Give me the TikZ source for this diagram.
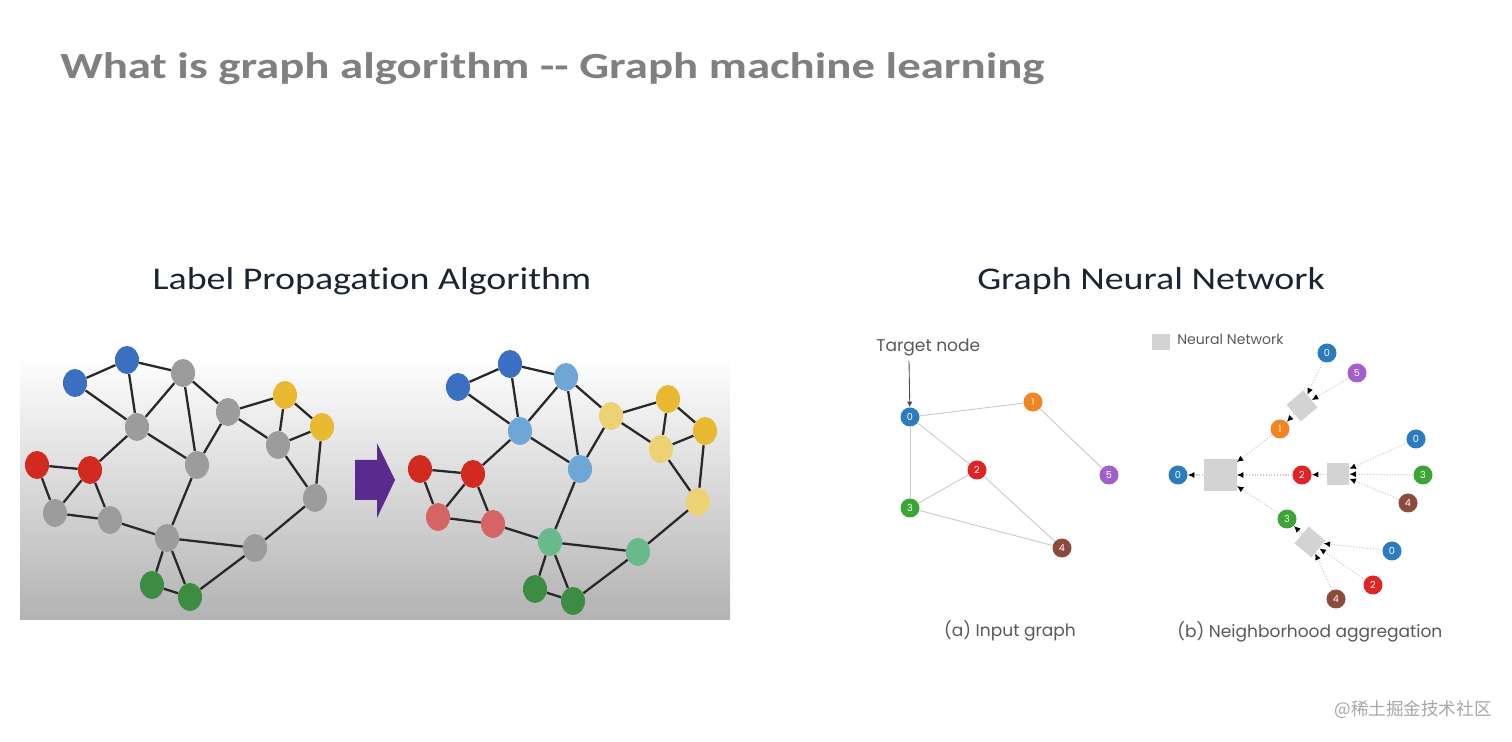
\documentclass[tikz,border=0pt]{standalone}
\usepackage{fontspec}
\setmainfont{Carlito}[Ligatures=NoCommon]
\newfontfamily\titlefont{Carlito}[Ligatures=NoCommon,FakeStretch=1.27]
\newfontfamily\headfont{Carlito}[Ligatures=NoCommon,FakeStretch=1.2]
\newfontfamily\gnnfont{Poppins}
\newfontfamily\cjkfont{Noto Sans CJK SC}
\usetikzlibrary{arrows.meta,shapes.geometric}
\definecolor{titlegray}{RGB}{128,128,128}
\definecolor{ink}{RGB}{27,36,49}
\definecolor{edgeink}{RGB}{40,40,40}
\definecolor{lpBlue}{RGB}{59,111,194}
\definecolor{lpGray}{RGB}{156,156,156}
\definecolor{lpYellow}{RGB}{232,185,49}
\definecolor{lpRed}{RGB}{210,42,30}
\definecolor{lpGreen}{RGB}{60,140,68}
\definecolor{lpLBlue}{RGB}{111,166,216}
\definecolor{lpLYellow}{RGB}{236,210,114}
\definecolor{lpPink}{RGB}{214,100,100}
\definecolor{lpLGreen}{RGB}{105,185,139}
\definecolor{arrowpurple}{RGB}{91,42,142}
\definecolor{gBlue}{RGB}{43,123,191}
\definecolor{gOrange}{RGB}{242,132,34}
\definecolor{gRed}{RGB}{224,36,36}
\definecolor{gGreen}{RGB}{60,165,53}
\definecolor{gBrown}{RGB}{139,75,59}
\definecolor{gPurple}{RGB}{160,95,201}
\definecolor{nnGray}{RGB}{211,211,211}
\definecolor{gLine}{RGB}{200,200,200}
\tikzset{
  lpnode/.style={ellipse,minimum width=0.48cm,minimum height=0.56cm,inner sep=0pt},
  lpedge/.style={edgeink,line width=1.3pt},
  gnode/.style={circle,minimum size=0.38cm,inner sep=0pt,text=white,
    font=\gnnfont\fontsize{5.5}{5.5}\selectfont},
  nnbox/.style={fill=nnGray,inner sep=0pt},
  gedge/.style={gLine,line width=0.5pt},
  agg/.style={gLine,line width=0.6pt,densely dotted,
    -{Latex[length=1.3mm,width=1.2mm,black]}},
  gtext/.style={font=\gnnfont\fontsize{9.7}{11}\selectfont,text=black!65},
}

\begin{document}
\begin{tikzpicture}[x=0.02cm,y=-0.02cm]
\useasboundingbox (0,0) rectangle (1512,742);
% title and headings
\node[anchor=base west,inner sep=0pt,text=titlegray,
  font=\titlefont\fontsize{21}{25}\selectfont\bfseries] (title) at (60,79)
  {What is graph algorithm -{}- Graph machine learning};
\node[anchor=base,inner sep=0pt,text=ink,font=\headfont\fontsize{18}{22}\selectfont]
  (lpahead) at (372,290) {Label Propagation Algorithm};
\node[anchor=base,inner sep=0pt,text=ink,font=\headfont\fontsize{18}{22}\selectfont]
  (gnnhead) at (1151,290) {Graph Neural Network};

% label propagation: before (L) and after (R)
\shade[top color=white,bottom color=black!30] (20,355) rectangle (730,620);
\foreach \n/\x/\y/\ca/\cb in {b1/75/383/lpBlue/lpBlue,b2/127/360/lpBlue/lpBlue,
    a/183/373/lpGray/lpLBlue,bb/137/427/lpGray/lpLBlue,c/228/412/lpGray/lpLYellow,
    y1/285/395/lpYellow/lpYellow,y2/322/427/lpYellow/lpYellow,
    d/278/445/lpGray/lpLYellow,e/197/465/lpGray/lpLBlue,r1/37/465/lpRed/lpRed,
    r2/90/470/lpRed/lpRed,f/315/498/lpGray/lpLYellow,g/55/513/lpGray/lpPink,
    h/110/520/lpGray/lpPink,i/167/538/lpGray/lpLGreen,j/255/548/lpGray/lpLGreen,
    g1/152/585/lpGreen/lpGreen,g2/190/597/lpGreen/lpGreen}{
  \node[lpnode,fill=\ca] (L\n) at (\x,\y) {};
  \node[lpnode,fill=\cb] (R\n) at ([shift={(383,4)}]\x,\y) {};}
\foreach \a/\b in {b1/b2,b2/a,b1/bb,b2/bb,a/bb,a/e,a/c,c/y1,c/e,c/d,y1/y2,
    y1/d,d/y2,d/f,y2/f,bb/e,bb/r2,r1/r2,r1/g,r2/g,g/h,r2/h,h/i,e/i,i/j,
    i/g1,i/g2,g1/g2,g2/j,j/f}{
  \draw[lpedge] (L\a) -- (L\b);
  \draw[lpedge] (R\a) -- (R\b);}
\fill[arrowpurple] (355,460) -- (377,460) -- (377,443) -- (395,480)
  -- (377,518) -- (377,500) -- (355,500) -- cycle;

% (a) input graph
\foreach \n/\x/\y/\c in {0/910/417/gBlue,1/1033/402/gOrange,2/977/470/gRed,
    3/910/508/gGreen,4/1062/548/gBrown,5/1109/475/gPurple}{
  \node[gnode,fill=\c] (in\n) at (\x,\y) {\n};}
\foreach \a/\b in {0/1,0/2,0/3,2/3,2/4,3/4,1/5}{
  \draw[gedge] (in\a) -- (in\b);}
\node[gtext,anchor=base west,inner sep=0pt] (target) at (876,352) {Target node};
\coordinate (targettop) at (909,361);
\draw[black!70,line width=0.5pt,-{Latex[length=1.1mm,width=1.1mm]}]
  (targettop) -- (in0);
\node[gtext,anchor=base,inner sep=0pt] (capa) at (1010,637) {(a) Input graph};

% (b) neighborhood aggregation
\node[nnbox,minimum width=0.36cm,minimum height=0.32cm] (legend) at (1161,342) {};
\node[gtext,anchor=base west,inner sep=0pt,font=\gnnfont\fontsize{8}{9}\selectfont]
  (legendtext) at (1177,345) {Neural Network};
\node[nnbox,minimum width=0.66cm,minimum height=0.64cm] (nnA) at (1220,475) {};
\node[nnbox,minimum size=0.44cm] (nnM) at (1338,474) {};
\node[nnbox,minimum size=0.44cm,rotate=40] (nnT) at (1302,406) {};
\node[nnbox,minimum size=0.44cm,rotate=-40] (nnB) at (1310,542) {};
\foreach \n/\lab/\x/\y/\c in {out/0/1178/475/gBlue,t1/1/1280/429/gOrange,
    m2/2/1302/475/gRed,b3/3/1287/519/gGreen,t0/0/1327/353/gBlue,
    t5/5/1357/373/gPurple,m0/0/1416/439/gBlue,m3/3/1423/475/gGreen,
    m4/4/1408/503/gBrown,b0/0/1392/551/gBlue,b2/2/1373/585/gRed,
    b4/4/1336/599/gBrown}{
  \node[gnode,fill=\c] (ag\n) at (\x,\y) {\lab};}
\foreach \a/\b in {nnA/agout,agt1/nnA,agm2/nnA,agb3/nnA,nnT/agt1,agt0/nnT,
    agt5/nnT,nnM/agm2,agm0/nnM,agm3/nnM,agm4/nnM,nnB/agb3,agb0/nnB,
    agb2/nnB,agb4/nnB}{
  \draw[agg] (\a) -- (\b);}
\node[gtext,anchor=base west,inner sep=0pt] (capb) at (1177,638)
  {(b) Neighborhood aggregation};

% watermark
\node[anchor=base east,inner sep=0pt,text=black!35,
  font=\cjkfont\fontsize{10}{12}\selectfont] (mark) at (1492,716) {@稀土掘金技术社区};
\end{tikzpicture}
\end{document}
